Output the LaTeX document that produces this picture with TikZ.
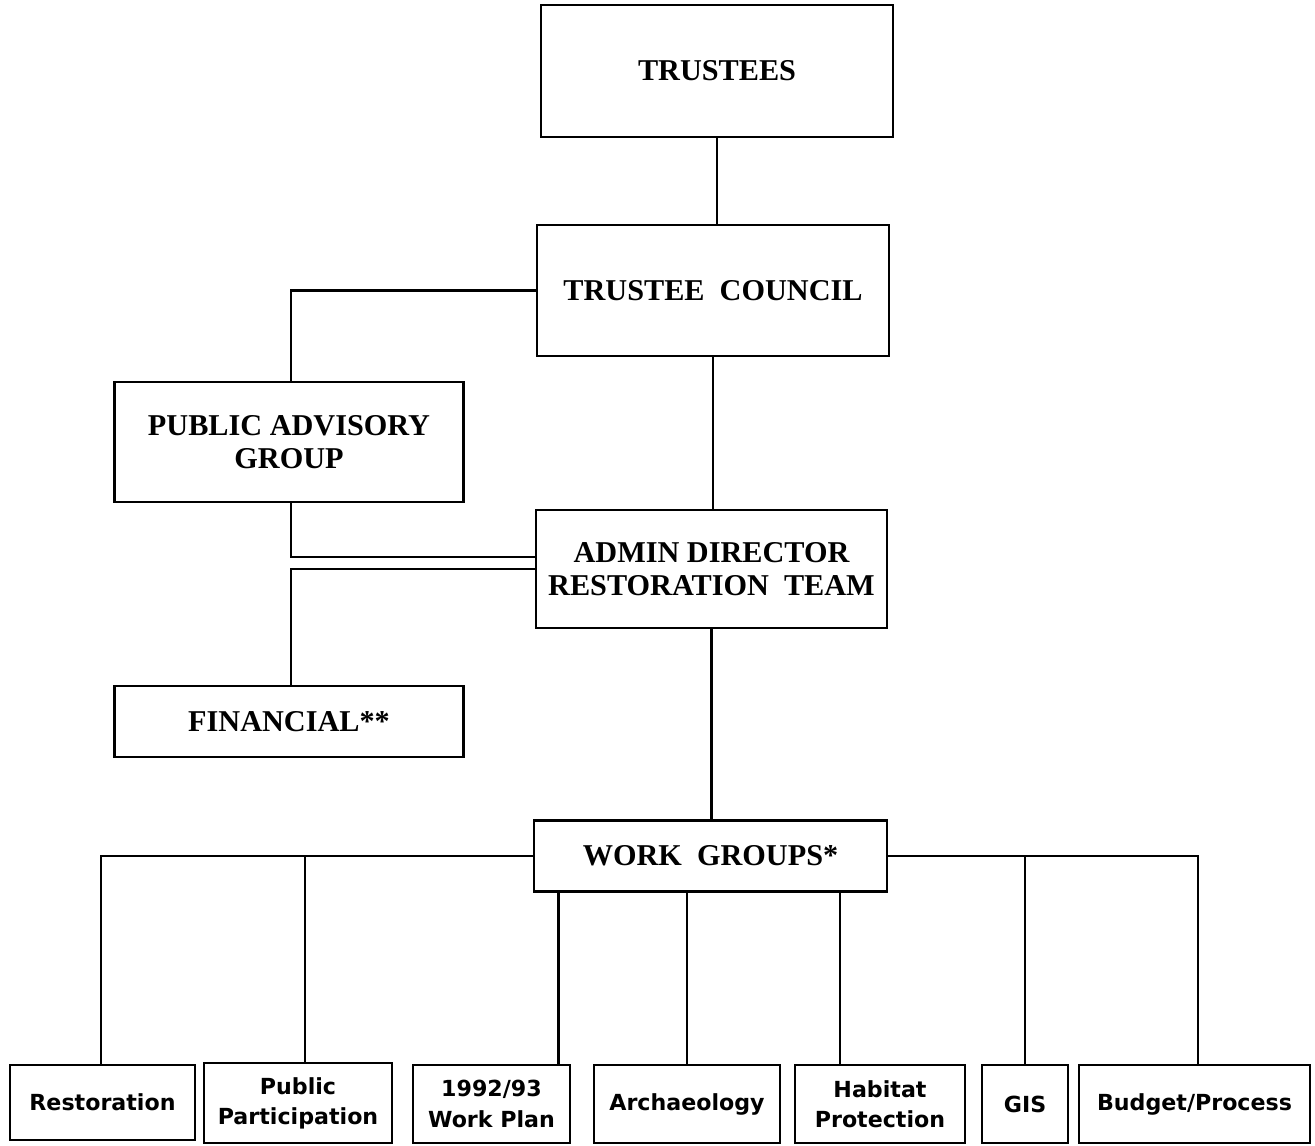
\documentclass[tikz,border=0pt]{standalone}
\usepackage{fontspec}
\newfontfamily\boxserif{Liberation Serif}
\newfontfamily\boxsans{DejaVu Sans}
\usetikzlibrary{positioning,calc}

\tikzset{
    orgbox/.style={draw, line width=0.75pt, align=center, inner sep=0pt,
        font=\boxserif\bfseries\fontsize{8.6}{9.3}\selectfont},
    groupbox/.style={draw, line width=0.75pt, align=center, inner sep=0pt,
        font=\boxsans\bfseries\fontsize{6.3}{8.6}\selectfont},
    link/.style={line width=0.7pt}
}

\begin{document}
\begin{tikzpicture}[x=0.01cm, y=-0.01cm]
    \useasboundingbox (0,0) rectangle (1315,1145);

    % top of the chart
    \node[orgbox, minimum width=3.52cm, minimum height=1.32cm] (trustees) at (717,71) {TRUSTEES};
    \node[orgbox, minimum width=3.52cm, minimum height=1.31cm] (council) at (713,290.5) {TRUSTEE \ COUNCIL};
    \node[orgbox, minimum width=3.49cm, minimum height=1.20cm] (advisory) at (289,442) {PUBLIC ADVISORY\\GROUP};
    \node[orgbox, minimum width=3.51cm, minimum height=1.18cm] (admin) at (711.5,569) {ADMIN DIRECTOR\\RESTORATION \ TEAM};
    \node[orgbox, minimum width=3.49cm, minimum height=0.71cm] (financial) at (289,721.5) {FINANCIAL**};
    \node[orgbox, minimum width=3.53cm, minimum height=0.71cm] (workgroups) at (710.5,856) {WORK \ GROUPS*};

    % work groups row
    \node[groupbox, minimum width=1.85cm, minimum height=0.75cm] (restoration) at (102.5,1102.5) {Restoration};
    \node[groupbox, minimum width=1.88cm, minimum height=0.80cm] (participation) at (298,1103) {Public\\Participation};
    \node[groupbox, minimum width=1.57cm, minimum height=0.78cm] (workplan) at (491.5,1104) {1992/93\\Work Plan};
    \node[groupbox, minimum width=1.86cm, minimum height=0.78cm] (archaeology) at (687,1104) {Archaeology};
    \node[groupbox, minimum width=1.70cm, minimum height=0.78cm] (habitat) at (880,1104) {Habitat\\Protection};
    \node[groupbox, minimum width=0.86cm, minimum height=0.78cm] (gis) at (1025,1104) {GIS};
    \node[groupbox, minimum width=2.31cm, minimum height=0.78cm] (budget) at (1194.5,1104) {Budget/Process};

    % connectors
    \draw[link] (trustees.south) -- (trustees.south |- council.north);
    \draw[link] (council.west) -| ([xshift=0.02cm]advisory.north);
    \draw[link] (council.south) -- (council.south |- admin.north);
    \draw[link] ([xshift=0.02cm]advisory.south) |- ([yshift=0.12cm]admin.west);
    \draw[link] (admin.west) -| ([xshift=0.02cm]financial.north);
    \draw[link] (admin.south) -- (admin.south |- workgroups.north);

    \draw[link] (workgroups.west) -| ([xshift=-0.015cm]restoration.north);
    \draw[link] (workgroups.west) -| ([xshift=0.07cm]participation.north);
    \draw[link] ([xshift=0.67cm]workplan.north) -- ([xshift=0.67cm]workplan.north |- workgroups.south);
    \draw[link] (archaeology.north) -- (archaeology.north |- workgroups.south);
    \draw[link] ([xshift=-0.40cm]habitat.north) -- ([xshift=-0.40cm]habitat.north |- workgroups.south);
    \draw[link] (workgroups.east) -| (gis.north);
    \draw[link] (workgroups.east) -| ([xshift=0.035cm]budget.north);
\end{tikzpicture}
\end{document}
